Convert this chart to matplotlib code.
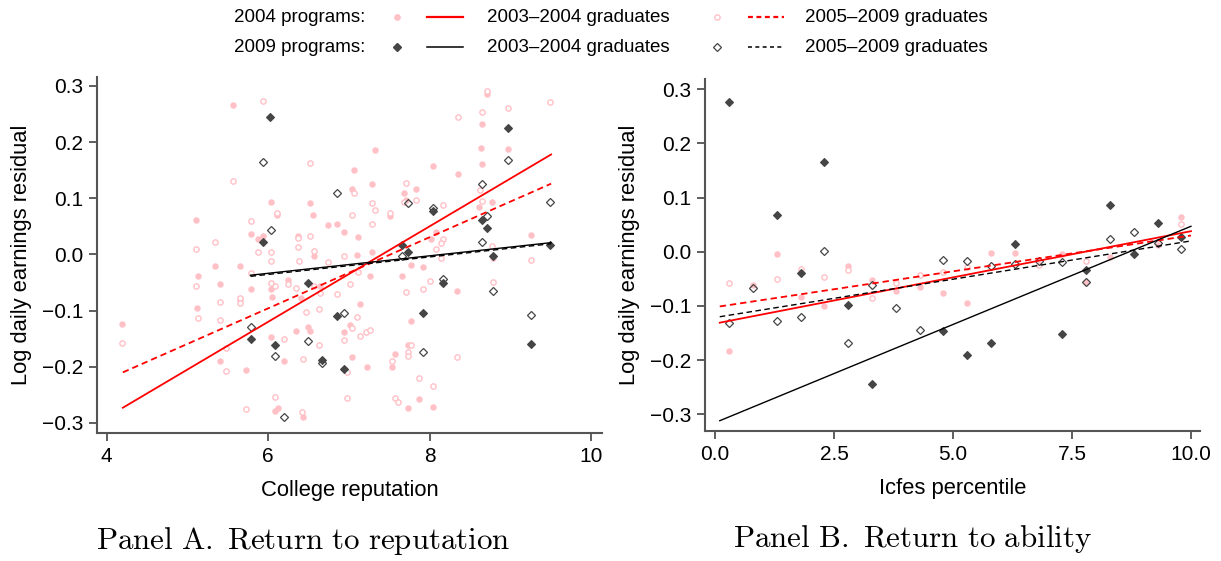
import matplotlib
matplotlib.use("Agg")
import matplotlib.pyplot as plt
from matplotlib.lines import Line2D
from matplotlib.ticker import FuncFormatter

plt.rcParams['font.family'] = ['Liberation Sans', 'DejaVu Sans']
plt.rcParams['mathtext.fontset'] = 'cm'

# ---------------- Panel A data (college reputation) ----------------
a04_old_x = [5.56, 6.03, 6.52, 6.11, 6.55, 5.11, 6.74, 6.85, 6.94, 5.78, 5.87, 5.94, 6.37, 6.56, 5.34,
             5.65, 5.13, 5.40, 5.78, 6.03, 6.25, 6.40, 6.64, 6.04, 5.65, 5.12, 4.19, 6.94, 6.03, 6.34,
             6.49, 6.52, 6.20, 5.40, 5.72, 6.08, 6.12, 6.43,
             8.71, 8.65, 8.63, 8.97, 7.32, 8.65, 7.06, 8.04, 8.35, 7.28, 7.03, 7.83, 7.68, 7.71, 7.51,
             8.61, 8.77, 7.11, 8.01, 8.07, 9.25, 7.28, 7.10, 8.78, 7.77, 7.92, 7.26, 7.65, 8.34, 7.13,
             7.01, 7.77, 7.73, 7.57, 7.53, 7.04, 7.22, 7.86, 7.73, 8.04]
a04_old_y = [0.266, 0.094, 0.092, 0.070, 0.070, 0.061, 0.053, 0.055, 0.040, 0.036, 0.027, 0.032, 0.033, -0.002, -0.020,
             -0.021, -0.039, -0.053, -0.061, -0.061, -0.046, -0.077, -0.057, -0.075, -0.082, -0.095, -0.123, -0.139, -0.147, -0.136,
             -0.129, -0.136, -0.190, -0.189, -0.205, -0.278, -0.273, -0.289,
             0.285, 0.233, 0.190, 0.188, 0.186, 0.161, 0.151, 0.158, 0.143, 0.125, 0.116, 0.117, 0.109, 0.097, 0.069,
             0.084, 0.094, 0.031, 0.027, 0.040, 0.034, 0.005, -0.001, -0.007, -0.018, -0.022, -0.038, -0.038, -0.066, -0.089,
             -0.125, -0.118, -0.162, -0.177, -0.200, -0.183, -0.201, -0.257, -0.273, -0.271]

a04_new_x = [5.94, 6.51, 5.56, 6.11, 5.78, 6.37, 6.52, 5.34, 5.11, 6.37, 6.56, 5.87, 6.03, 6.03, 6.38,
             6.74, 6.94, 5.78, 5.11, 6.03, 6.08, 6.25, 6.34, 6.56, 6.64, 6.85, 5.65, 5.65, 5.40, 5.13,
             5.40, 4.19, 6.47, 6.63, 6.94, 5.48, 6.20, 6.63, 6.43, 5.48, 6.08, 5.72, 6.42,
             8.71, 9.49, 8.65, 8.97, 8.35, 8.62, 7.06, 7.71, 7.68, 7.83, 7.28, 7.32, 7.03, 7.51, 8.16,
             8.65, 7.28, 8.16, 8.14, 8.08, 8.77, 9.25, 8.14, 7.01, 7.11, 8.00, 7.92, 7.70, 8.78, 7.10,
             7.03, 7.13, 7.21, 7.26, 7.77, 7.73, 7.73, 7.53, 8.34, 6.97, 7.86, 8.04, 6.97, 7.57, 7.60]
a04_new_y = [0.273, 0.163, 0.130, 0.074, 0.059, 0.030, 0.033, 0.023, 0.009, 0.014, 0.006, 0.004, 0.004, -0.011, -0.012,
             -0.013, -0.003, -0.033, -0.057, -0.050, -0.056, -0.053, -0.059, -0.056, -0.068, -0.071, -0.077, -0.086, -0.084, -0.113,
             -0.117, -0.158, -0.103, -0.097, -0.152, -0.167, -0.151, -0.161, -0.187, -0.208, -0.254, -0.276, -0.281,
             0.291, 0.271, 0.253, 0.260, 0.244, 0.114, 0.110, 0.128, 0.094, 0.097, 0.092, 0.079, 0.070, 0.074, 0.088,
             0.095, 0.054, 0.028, 0.021, 0.009, 0.015, -0.010, -0.006, -0.053, -0.031, -0.048, -0.061, -0.067, -0.049, -0.112,
             -0.131, -0.145, -0.138, -0.135, -0.162, -0.174, -0.181, -0.189, -0.182, -0.210, -0.220, -0.234, -0.255, -0.256, -0.262]

a09_old_x = [6.02, 5.94, 6.49, 6.85, 5.78, 6.08, 6.66, 6.94, 8.97, 8.04, 8.65, 8.71, 9.49, 7.65, 7.73,
             8.78, 8.16, 9.25, 7.92]
a09_old_y = [0.244, 0.022, -0.051, -0.109, -0.151, -0.162, -0.188, -0.204, 0.226, 0.078, 0.062, 0.047, 0.017, 0.017, 0.005,
             -0.003, -0.050, -0.160, -0.105]

a09_new_x = [5.94, 6.85, 6.03, 6.94, 5.78, 6.08, 6.49, 6.66, 6.20, 8.97, 8.65, 7.73, 8.04, 8.71, 8.65,
             7.65, 8.16, 8.78, 9.25, 7.92, 9.49]
a09_new_y = [0.165, 0.110, 0.043, -0.105, -0.130, -0.181, -0.154, -0.193, -0.289, 0.169, 0.125, 0.092, 0.083, 0.068, 0.022,
             -0.002, -0.043, -0.066, -0.108, -0.174, 0.093]

# fitted lines, panel A (endpoints)
fitA_red_x = [4.2, 9.5]
fitA_red_solid = [-0.273, 0.178]
fitA_red_dash = [-0.210, 0.126]
fitA_blk_x = [5.78, 9.5]
fitA_blk_solid = [-0.037, 0.021]
fitA_blk_dash = [-0.039, 0.019]

# ---------------- Panel B data (Icfes percentile) ----------------
b04_old_x = [0.3, 0.8, 1.3, 1.8, 2.3, 2.8, 3.3, 3.8, 4.3, 4.8, 5.3, 5.8, 6.3, 7.3, 7.8, 8.3, 9.3, 9.8]
b04_old_y = [-0.183, -0.061, -0.005, -0.083, -0.100, -0.026, -0.053, -0.073, -0.065, -0.077, -0.094, -0.003, -0.002,
             -0.005, -0.055, -0.010, 0.012, 0.065]

b04_new_x = [0.3, 1.3, 1.8, 2.3, 2.8, 3.3, 3.8, 4.3, 4.8, 5.3, 6.8, 7.8, 9.8]
b04_new_y = [-0.057, -0.050, -0.032, -0.047, -0.034, -0.085, -0.058, -0.043, -0.037, -0.028, -0.025, -0.017, 0.051]

b09_old_x = [0.3, 1.3, 1.8, 2.3, 2.8, 3.3, 4.8, 5.3, 5.8, 6.3, 7.3, 7.8, 8.3, 8.8, 9.3, 9.8]
b09_old_y = [0.277, 0.067, -0.039, 0.166, -0.098, -0.244, -0.146, -0.191, -0.168, 0.015, -0.152, -0.034, 0.086,
             -0.004, 0.053, 0.028]

b09_new_x = [0.3, 0.8, 1.3, 1.8, 2.3, 2.8, 3.3, 3.8, 4.3, 4.8, 5.3, 5.8, 6.3, 6.8, 7.3, 7.8, 8.3, 8.8, 9.3, 9.8]
b09_new_y = [-0.132, -0.067, -0.128, -0.120, 0.001, -0.168, -0.062, -0.104, -0.144, -0.015, -0.018, -0.027, -0.023,
             -0.018, -0.019, -0.055, 0.023, 0.036, 0.016, 0.006]

fitB_x = [0.1, 10.0]
fitB_red_solid = [-0.131, 0.038]
fitB_red_dash = [-0.101, 0.030]
fitB_blk_solid = [-0.312, 0.047]
fitB_blk_dash = [-0.120, 0.020]

# tick labels
a_xticks = [4, 6, 8, 10]
b_xticks = [0.0, 2.5, 5.0, 7.5, 10.0]
yticks = [-0.3, -0.2, -0.1, 0.0, 0.1, 0.2, 0.3]

# ---------------- styling ----------------
PINK = '#FFC0C6'
RED = '#FF0000'
DARK = '#454545'
W, H = 1221, 561
fig = plt.figure(figsize=(W / 100, H / 100), dpi=100)


def frac_box(l, r, t, b):
    return [l / W, 1 - b / H, (r - l) / W, (b - t) / H]


axA = fig.add_axes(frac_box(97, 602, 77, 433))
axB = fig.add_axes(frac_box(705, 1200, 79, 431))

ms_dot = 3.8
ms_dia = 4.6


def draw_panel(ax, x04o, y04o, x04n, y04n, x09o, y09o, x09n, y09n):
    ax.plot(x04o, y04o, 'o', ls='none', ms=ms_dot, mfc=PINK, mec=PINK, mew=0.8, zorder=2)
    ax.plot(x04n, y04n, 'o', ls='none', ms=ms_dot, mfc='white', mec=PINK, mew=1.0, zorder=2)
    ax.plot(x09o, y09o, 'D', ls='none', ms=ms_dia * 0.85, mfc=DARK, mec=DARK, mew=0.8, zorder=4)
    ax.plot(x09n, y09n, 'D', ls='none', ms=ms_dia * 0.85, mfc='none', mec=DARK, mew=0.9, zorder=4)


draw_panel(axA, a04_old_x, a04_old_y, a04_new_x, a04_new_y, a09_old_x, a09_old_y, a09_new_x, a09_new_y)
axA.plot(fitA_red_x, fitA_red_solid, color=RED, lw=1.3, zorder=5)
axA.plot(fitA_red_x, fitA_red_dash, color=RED, lw=1.3, ls=(0, (3.5, 2.2)), zorder=5)
axA.plot(fitA_blk_x, fitA_blk_solid, color='black', lw=1.0, zorder=5)
axA.plot(fitA_blk_x, fitA_blk_dash, color='black', lw=1.0, ls=(0, (4, 2.5)), zorder=5)

draw_panel(axB, b04_old_x, b04_old_y, b04_new_x, b04_new_y, b09_old_x, b09_old_y, b09_new_x, b09_new_y)
axB.plot(fitB_x, fitB_red_solid, color=RED, lw=1.3, zorder=5)
axB.plot(fitB_x, fitB_red_dash, color=RED, lw=1.3, ls=(0, (3.5, 2.2)), zorder=5)
axB.plot(fitB_x, fitB_blk_solid, color='black', lw=1.0, zorder=5)
axB.plot(fitB_x, fitB_blk_dash, color='black', lw=1.0, ls=(0, (4, 2.5)), zorder=5)

axA.set_xlim(3.88, 10.13)
axA.set_ylim(-0.318, 0.316)
axB.set_xlim(-0.21, 10.19)
axB.set_ylim(-0.331, 0.319)

axA.set_xticks(a_xticks)
axA.set_xticklabels([str(v) for v in a_xticks])
axB.set_xticks(b_xticks)
axB.set_xticklabels([f'{v:.1f}' for v in b_xticks])

fmt = FuncFormatter(lambda v, p: f'{v:.1f}'.replace('-', '\u2212'))
for ax in (axA, axB):
    ax.set_yticks(yticks)
    ax.yaxis.set_major_formatter(fmt)
    for s in ('top', 'right'):
        ax.spines[s].set_visible(False)
    for s in ('left', 'bottom'):
        ax.spines[s].set_color('#555555')
        ax.spines[s].set_linewidth(1.5)
    ax.tick_params(axis='both', direction='out', length=6, width=1.1, color='#333333',
                   labelsize=15, pad=4, labelcolor='black')
    ax.set_ylabel('Log daily earnings residual', fontsize=15.8, labelpad=7)
    ax.patch.set_alpha(0)

axA.set_xlabel('College reputation', fontsize=15.8, labelpad=10)
axB.set_xlabel('Icfes percentile', fontsize=15.8, labelpad=10)

# panel titles
fig.text(303 / W, 1 - 541 / H, r'$\mathrm{Panel\ A.\ Return\ to\ reputation}$', fontsize=22.3,
         ha='center', va='center')
fig.text(912 / W, 1 - 539 / H, r'$\mathrm{Panel\ B.\ Return\ to\ ability}$', fontsize=22.3,
         ha='center', va='center')

# ---------------- legend (two rows at top) ----------------
rows = [
    ('2004 programs:', dict(marker='o', ms=ms_dot, mfc=PINK, mec=PINK), RED, 1.6,
     dict(marker='o', ms=ms_dot, mfc='white', mec=PINK, mew=1.0), (0, (2.2, 1.6))),
    ('2009 programs:', dict(marker='D', ms=ms_dia * 0.8, mfc=DARK, mec=DARK), 'black', 1.1,
     dict(marker='D', ms=ms_dia * 0.8, mfc='none', mec=DARK, mew=0.9), (0, (2.6, 2.2))),
]
row_y = [17, 47]
for (lab, m1, lc, lw, m2, dash), yp in zip(rows, row_y):
    fy = 1 - yp / H
    fig.text(234 / W, fy, lab, fontsize=13.5, ha='left', va='center')
    fig.add_artist(Line2D([397 / W], [fy], ls='none', transform=fig.transFigure, **m1))
    fig.add_artist(Line2D([427 / W, 463 / W], [fy, fy], color=lc, lw=lw, transform=fig.transFigure))
    fig.text(487 / W, fy, '2003\u20132004 graduates', fontsize=13.5, ha='left', va='center')
    fig.add_artist(Line2D([717 / W], [fy], ls='none', transform=fig.transFigure, **m2))
    fig.add_artist(Line2D([748 / W, 784 / W], [fy, fy], color=lc, lw=lw, ls=dash, transform=fig.transFigure))
    fig.text(805 / W, fy, '2005\u20132009 graduates', fontsize=13.5, ha='left', va='center')

fig.savefig('out.png', dpi=100, facecolor='white')
